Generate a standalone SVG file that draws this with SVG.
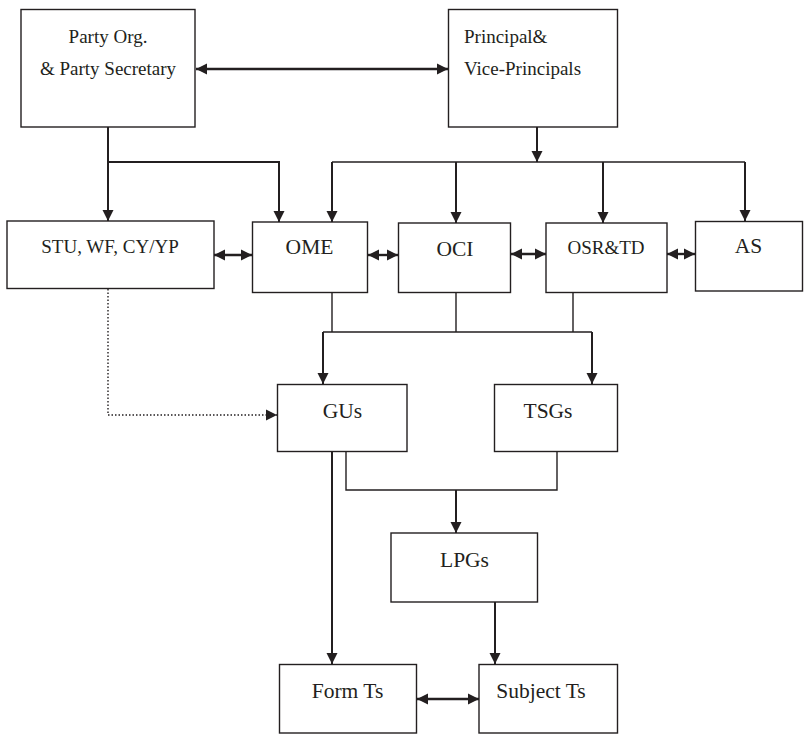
<svg xmlns="http://www.w3.org/2000/svg" width="804" height="734" viewBox="0 0 804 734">
<style>
.box{fill:#fff;stroke:#231f20;stroke-width:1.4}
.t{font-family:'Liberation Serif','Times New Roman','DejaVu Serif',serif;fill:#231f20;text-anchor:middle}
.s19{font-size:19px}
.s21{font-size:21.5px}
.ln{fill:none;stroke:#231f20;stroke-width:1.4}
.ar{fill:none;stroke:#231f20;stroke-width:2;marker-end:url(#ah)}
.da{fill:none;stroke:#231f20;stroke-width:2.4;marker-start:url(#ah);marker-end:url(#ah)}
.dt{fill:none;stroke:#231f20;stroke-width:1.4;stroke-dasharray:1.5 2;marker-end:url(#ah)}
</style>
<defs>
<marker id="ah" markerUnits="userSpaceOnUse" markerWidth="12" markerHeight="12" refX="11" refY="6" orient="auto-start-reverse" viewBox="0 0 12 12">
<path d="M0,0.5 L11,6 L0,11.5 z" fill="#231f20"/>
</marker>
</defs>
<rect width="804" height="734" fill="#fff"/>
<g id="connectors">
<line class="da" x1="196" y1="69" x2="448" y2="69"/>
<path class="ar" d="M108,127 V221"/>
<path class="ar" d="M108,162 H279 V222"/>
<path class="ar" d="M537,127 V162"/>
<path class="ln" d="M332,162 H745"/>
<path class="ar" d="M332,162 V222"/>
<path class="ar" d="M456,162 V223"/>
<path class="ar" d="M603,162 V223"/>
<path class="ar" d="M745,162 V221"/>
<line class="da" x1="214" y1="255" x2="252" y2="255"/>
<line class="da" x1="368" y1="255" x2="398" y2="255"/>
<line class="da" x1="511" y1="254" x2="546" y2="254"/>
<line class="da" x1="667" y1="254" x2="695" y2="254"/>
<path class="ln" d="M332,293 V332 M456,293 V332 M573,293 V332 M323,332 H592"/>
<path class="ar" d="M323,332 V384"/>
<path class="ar" d="M592,332 V384"/>
<path class="dt" d="M108,289 V415 H277"/>
<path class="ar" d="M332,452 V664"/>
<path class="ln" d="M346,452 V490 H557 V452"/>
<path class="ar" d="M456,490 V533"/>
<path class="ar" d="M495,602 V664"/>
<line class="da" x1="417" y1="699" x2="479" y2="699"/>
</g>
<g id="party"><rect class="box" x="21" y="9.5" width="174" height="117.5"/>
<text class="t s19" x="108" y="43" font-family="Liberation Serif">Party Org.</text><text class="t s19" x="108" y="75">&amp; Party Secretary</text></g>
<g id="principal"><rect class="box" x="448.5" y="9.5" width="169" height="117.5"/>
<text class="t s19" x="464" y="43" style="text-anchor:start">Principal&amp;</text><text class="t s19" x="464" y="75" style="text-anchor:start">Vice-Principals</text></g>
<g id="stu"><rect class="box" x="7" y="221" width="207" height="67.5"/>
<text class="t s19" x="110" y="253">STU, WF, CY/YP</text></g>
<g id="ome"><rect class="box" x="252.5" y="222" width="115" height="70.5"/>
<text class="t s21" x="309.5" y="254">OME</text></g>
<g id="oci"><rect class="box" x="398.5" y="223" width="112" height="69.5"/>
<text class="t s21" x="455" y="256">OCI</text></g>
<g id="osrtd"><rect class="box" x="546" y="223" width="121" height="69.5"/>
<text class="t s19" x="606" y="254">OSR&amp;TD</text></g>
<g id="as"><rect class="box" x="695.5" y="221.5" width="107" height="69.5"/>
<text class="t s21" x="748.5" y="253">AS</text></g>
<g id="gus"><rect class="box" x="277.5" y="384.5" width="129.5" height="67"/>
<text class="t s21" x="342.5" y="418">GUs</text></g>
<g id="tsgs"><rect class="box" x="494.5" y="384.5" width="123" height="67"/>
<text class="t s21" x="548" y="418">TSGs</text></g>
<g id="lpgs"><rect class="box" x="391" y="533" width="146.5" height="69"/>
<text class="t s21" x="464.5" y="567">LPGs</text></g>
<g id="formts"><rect class="box" x="279.5" y="664.5" width="137" height="68.5"/>
<text class="t s21" x="347.5" y="698">Form Ts</text></g>
<g id="subjectts"><rect class="box" x="479" y="664.5" width="138.5" height="68.5"/>
<text class="t s21" x="541" y="698">Subject Ts</text></g>
</svg>
